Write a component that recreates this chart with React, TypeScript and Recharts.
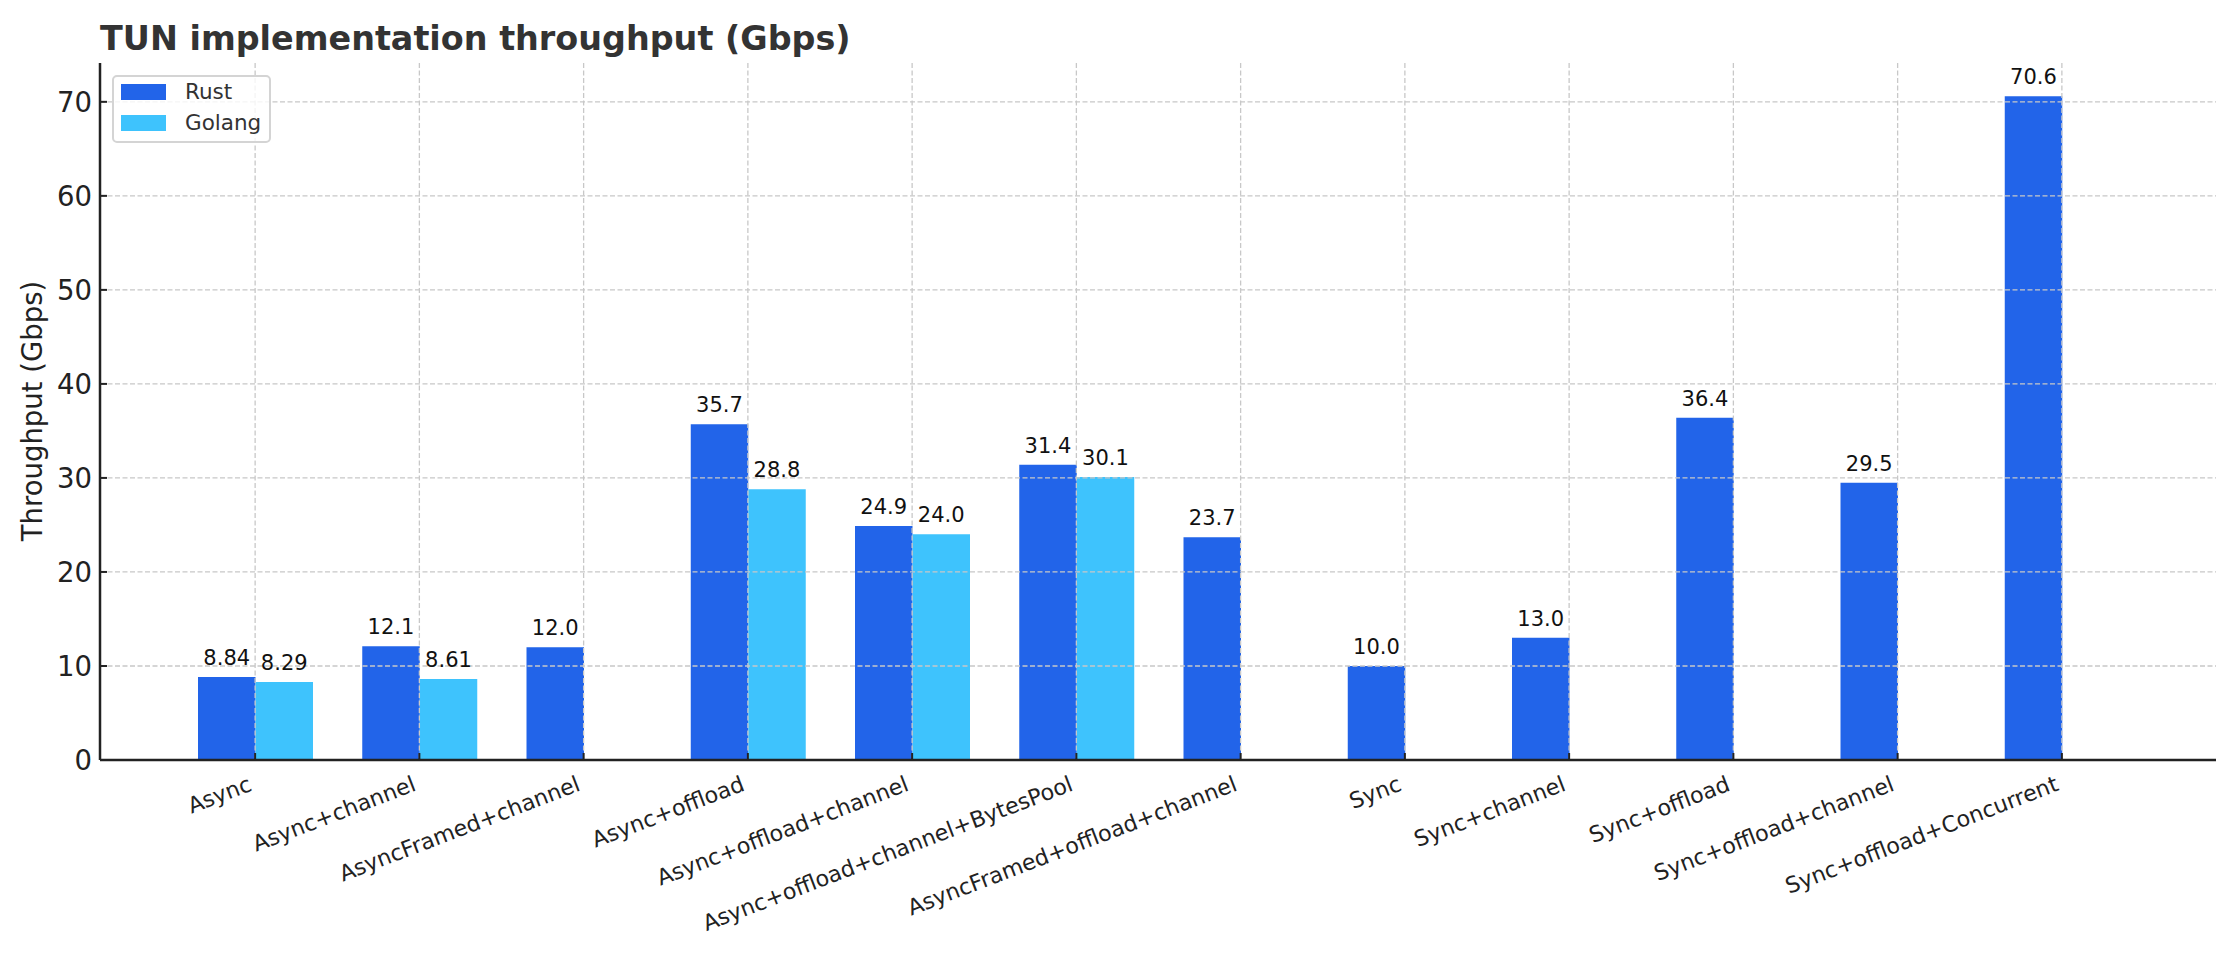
import { Bar, BarChart, CartesianGrid, LabelList, Legend, XAxis, YAxis } from 'recharts';

const categories = [
  'Async',
  'Async+channel',
  'AsyncFramed+channel',
  'Async+offload',
  'Async+offload+channel',
  'Async+offload+channel+BytesPool',
  'AsyncFramed+offload+channel',
  'Sync',
  'Sync+channel',
  'Sync+offload',
  'Sync+offload+channel',
  'Sync+offload+Concurrent',
];
const rustValues = [8.84, 12.1, 12.0, 35.7, 24.9, 31.4, 23.7, 10.0, 13.0, 36.4, 29.5, 70.6];
const golangValues: (number | null)[] = [8.29, 8.61, null, 28.8, 24.0, 30.1, null, null, null, null, null, null];
const yTicks = [0, 10, 20, 30, 40, 50, 60, 70];

const RUST = '#2264E9';
const GOLANG = '#3EC3FD';
const FONT = '"DejaVu Sans", sans-serif';

const data = categories.map((name, i) => ({ name, rust: rustValues[i], golang: golangValues[i] }));
const yMax = Math.max(...rustValues) * 1.05;

const fmt = (v: any) => (v == null ? '' : Number.isInteger(v) ? v.toFixed(1) : String(v));

function XTick(props: any) {
  const { x, y, payload } = props;
  const ax = x - 2;
  return (
    <text
      x={ax}
      y={y}
      transform={`rotate(-21 ${ax} ${y})`}
      textAnchor="end"
      fontSize={22.2}
      fill="#222"
      fontFamily={FONT}
    >
      {payload.value}
    </text>
  );
}

function YLabel() {
  return (
    <text
      x={42}
      y={411}
      transform="rotate(-90 42 411)"
      textAnchor="middle"
      fontSize={27.5}
      fill="#222"
      fontFamily={FONT}
    >
      Throughput (Gbps)
    </text>
  );
}

function LegendBox() {
  const items = [
    { label: 'Rust', color: RUST },
    { label: 'Golang', color: GOLANG },
  ];
  return (
    <div
      style={{
        position: 'relative',
        width: 159,
        height: 68,
        boxSizing: 'border-box',
        border: '2px solid #d4d4d4',
        borderRadius: 5,
        background: 'rgba(255,255,255,0.8)',
        fontFamily: FONT,
      }}
    >
      {items.map((it, i) => (
        <div
          key={it.label}
          style={{ position: 'absolute', left: 7, top: 7 + i * 31, display: 'flex', alignItems: 'center', height: 16 }}
        >
          <div style={{ width: 45, height: 16, background: it.color }} />
          <span style={{ marginLeft: 19, fontSize: 21.5, color: '#333', lineHeight: '16px' }}>{it.label}</span>
        </div>
      ))}
    </div>
  );
}

export default function App() {
  return (
    <div style={{ position: 'relative', width: 2240, height: 960, background: '#fff' }}>
      <style>{'body{margin:0}'}</style>
      <div
        style={{
          position: 'absolute',
          left: 100,
          top: 22,
          fontSize: 33.4,
          lineHeight: '34px',
          fontWeight: 'bold',
          color: '#333',
          fontFamily: FONT,
          whiteSpace: 'nowrap',
        }}
      >
        TUN implementation throughput (Gbps)
      </div>
      <BarChart
        width={2240}
        height={960}
        data={data}
        margin={{ top: 63, right: 24, left: 30, bottom: 50 }}
        barGap={0}
        barSize={57.5}
      >
        <XAxis
          dataKey="name"
          height={150}
          padding={{ left: 73, right: 72 }}
          interval={0}
          tick={<XTick />}
          tickSize={-7}
          tickMargin={37}
          axisLine={{ stroke: '#222', strokeWidth: 2.5 }}
          tickLine={{ stroke: '#222', strokeWidth: 2 }}
        />
        <YAxis
          type="number"
          width={70}
          domain={[0, yMax]}
          ticks={yTicks}
          allowDataOverflow
          tickSize={-7}
          tickMargin={15}
          tick={{ fontSize: 27.5, fill: '#222', fontFamily: FONT }}
          axisLine={{ stroke: '#222', strokeWidth: 2.5 }}
          tickLine={{ stroke: '#222', strokeWidth: 2 }}
          label={<YLabel />}
        />
        <Legend
          layout="horizontal"
          verticalAlign="middle"
          align="center"
          content={<LegendBox />}
          wrapperStyle={{ left: 112, top: 75, width: 'auto', height: 'auto' }}
        />
        <Bar dataKey="rust" name="Rust" fill={RUST} isAnimationActive={false}>
          <LabelList dataKey="rust" position="top" offset={12} formatter={fmt} fontSize={21} fill="#111" fontFamily={FONT} />
        </Bar>
        <Bar dataKey="golang" name="Golang" fill={GOLANG} isAnimationActive={false}>
          <LabelList dataKey="golang" position="top" offset={12} formatter={fmt} fontSize={21} fill="#111" fontFamily={FONT} />
        </Bar>
        <CartesianGrid stroke="#c8c8c8" strokeDasharray="5 2.5" strokeWidth={1.3} syncWithTicks zIndex={350} />
      </BarChart>
    </div>
  );
}
